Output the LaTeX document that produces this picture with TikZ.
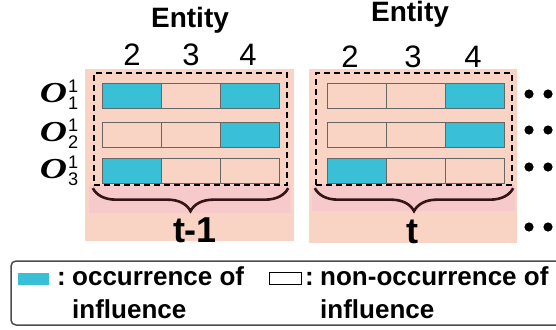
\documentclass[tikz,border=0pt]{standalone}
\usepackage{amsmath}
\usepackage{amssymb}
\usepackage{graphicx}
\usepackage{fontspec}
\setmainfont{Liberation Sans}
\newfontfamily\objfont{Liberation Serif}
\usetikzlibrary{positioning}
\usetikzlibrary{decorations.pathreplacing}
\usepackage{xcolor}
\definecolor{slotpink}{RGB}{249,211,196}
\definecolor{bandpink}{RGB}{246,201,203}
\definecolor{infblue}{RGB}{58,192,214}
\definecolor{bracebrown}{RGB}{52,20,20}
% wide bold italic O for the object labels
\newcommand\objO{\scalebox{1.3}[1]{\fontsize{29}{31}\selectfont\objfont\bfseries\itshape O}\kern1pt}
\tikzset{
  cell/.style={draw=black!60, line width=0.8pt, minimum width=59pt, minimum height=25pt, inner sep=0pt, outer sep=0pt},
  frame/.style={draw=black, line width=2.3pt, dash pattern=on 6pt off 4pt, inner sep=0pt},
  curly/.style={decorate, decoration={brace, mirror, amplitude=23pt}, draw=bracebrown, line width=2.6pt},
  entity/.style={font=\fontsize{28}{30}\selectfont\bfseries, inner sep=0pt},
  digit/.style={font=\fontsize{31}{33}\selectfont, inner sep=0pt},
  objlabel/.style={font=\fontsize{26}{28}\selectfont, inner sep=0pt},
  tlabel/.style={font=\fontsize{36}{38}\selectfont\bfseries, inner sep=0pt},
  legtext/.style={font=\fontsize{26}{30}\selectfont\bfseries, inner sep=0pt}
}

\begin{document}
\begin{tikzpicture}[x=1pt, y=-1pt]
	\useasboundingbox (0,0) rectangle (556,329);
	\clip (0,0) rectangle (556,329);
	% time slices
	\fill[slotpink] (85,69) rectangle (294,241);
	\fill[slotpink] (309,69) rectangle (517,243);
	\fill[bandpink] (89,185) rectangle (291,213);
	\fill[bandpink] (312,185) rectangle (515,211);
	% column headers
	\node[entity, anchor=base] (ent1) at (190,28) {Entity};
	\node[entity, anchor=base] (ent2) at (410,22) {Entity};
	\foreach \d/\x in {2/132, 3/191, 4/248}
		\node[digit, anchor=base] (h1-\d) at (\x,65) {\d};
	\foreach \d/\x in {2/350, 3/413, 4/473}
		\node[digit, anchor=base] (h2-\d) at (\x,67) {\d};
	% row labels
	\foreach \y [count=\r] in {102, 141, 178}
		\node[objlabel, anchor=base east] (obj\r) at (79,\y) {\objO$^{\text{1}}_{\text{\r}}$};
	% cells, slice t-1
	\foreach \y/\a/\b/\cc [count=\r] in {95.5/infblue/slotpink/infblue, 134.5/slotpink/slotpink/infblue, 171/infblue/slotpink/slotpink} {
		\node[cell, fill=\a] (p1-\r-2) at (131.5,\y) {};
		\node[cell, fill=\b] (p1-\r-3) at (190.5,\y) {};
		\node[cell, fill=\cc] (p1-\r-4) at (249.5,\y) {};
	}
	% cells, slice t
	\foreach \y/\a/\b/\cc [count=\r] in {95.5/slotpink/slotpink/infblue, 134.5/slotpink/slotpink/infblue, 171/infblue/slotpink/slotpink} {
		\node[cell, fill=\a] (p2-\r-2) at (356.5,\y) {};
		\node[cell, fill=\b] (p2-\r-3) at (415.5,\y) {};
		\node[cell, fill=\cc] (p2-\r-4) at (474.5,\y) {};
	}
	% dashed groups and braces
	\node[frame, minimum width=193pt, minimum height=112pt] (frame1) at (190.5,129) {};
	\node[frame, minimum width=196pt, minimum height=112pt] (frame2) at (414,129) {};
	\draw[curly] ([yshift=-2pt]frame1.south west) -- ([yshift=-2pt]frame1.south east);
	\draw[curly] ([yshift=-2pt]frame2.south west) -- ([yshift=-2pt]frame2.south east);
	\node[tlabel, anchor=base] (tprev) at (195,242) {t-1};
	\node[tlabel, anchor=base] (tnow) at (412,243) {t};
	% more slices follow
	\foreach \y in {94, 130, 167, 227} {
		\fill (529,\y) circle (4.6pt);
		\fill (548,\y) circle (4.6pt);
	}
	% legend
	\draw[draw=black!70, line width=1.5pt, rounded corners=5pt] (11,261) rectangle (575,325);
	\node[fill=infblue, minimum width=31pt, minimum height=12pt, inner sep=0pt] (keyhit) at (33.5,278.5) {};
	\node[legtext, anchor=base west] (colhit) at (57,285) {:};
	\node[legtext, anchor=base west] (texthit) at (72,285) {occurrence of};
	\node[legtext, anchor=base west] at (72,318) {influence};
	\node[draw=black, line width=1.8pt, fill=white, minimum width=32pt, minimum height=12pt, inner sep=0pt] (keymiss) at (285.5,278.5) {};
	\node[legtext, anchor=base west] (colmiss) at (305,285) {:};
	\node[legtext, anchor=base west] (textmiss) at (320,285) {non-occurrence of};
	\node[legtext, anchor=base west] at (320,318) {influence};
\end{tikzpicture}
\end{document}
